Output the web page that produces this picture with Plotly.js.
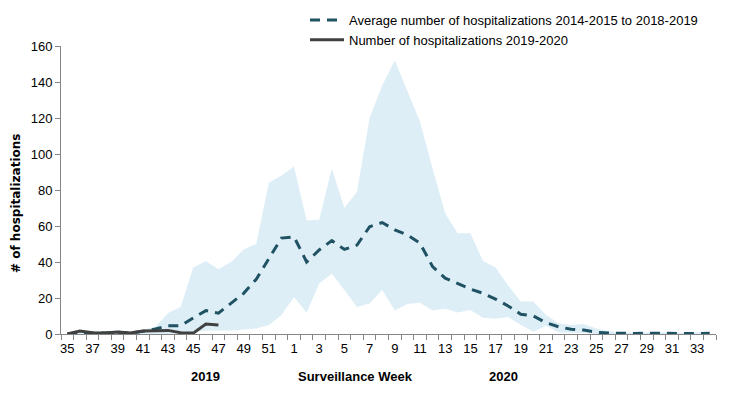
<!DOCTYPE html>
<html>
<head>
<meta charset="utf-8">
<script src="https://cdn.plot.ly/plotly-3.0.1.min.js"></script>
<style>
html,body{margin:0;padding:0;background:#fff;}
#chart{width:740px;height:394px;}
</style>
</head>
<body>
<div id="chart"></div>
<script>
// Surveillance weeks (2019 weeks 35-52, then 2020 weeks 1-34)
const weeks = ['35','36','37','38','39','40','41','42','43','44','45','46','47','48','49','50','51','52',
  '1','2','3','4','5','6','7','8','9','10','11','12','13','14','15','16','17','18','19','20',
  '21','22','23','24','25','26','27','28','29','30','31','32','33','34'];

// Historical range (min / max) 2014-2015 to 2018-2019
const rangeMin = [0,0,0,0,0,0,0,0,0,0.5,1,2,2,2,2.5,3,5,10.5,
  20.5,12,28,33.5,24.5,15,17,24.5,13,16.7,17.4,13,14,12,13.3,9,8.5,9.4,5,1.3,
  4.4,1,0.5,0.5,0,0,0,0,0,0,0,0,0,0];
const rangeMax = [0,1.5,1.5,1.5,2,1.5,2.5,4,11.7,15,37,40.5,36,40,47,50,84,88,
  93,63,63.5,92,70,79,120,138,152,135,118,92,67,56,56,40.5,37,27,18,18,
  10.5,6,5,5.5,3,1.5,1,1,1,1,1,0.5,1,1];

// Average number of hospitalizations 2014-2015 to 2018-2019
const avgHosp = [0,1,0.5,0.5,1,0.5,1.5,2.8,4.6,4.6,8.9,13,11.6,17,22.6,30.4,42,53.3,
  54,40,46.7,51.9,47,49.4,59.6,61.9,57.8,55,50.5,37.4,31,27.8,25,22.6,19.4,15.6,11,10,
  6.3,4,2.6,2.2,1,0.5,0.3,0.3,0.5,0.3,0.2,0.3,0.3,0.4];

// Number of hospitalizations 2019-2020 (weeks 35-47)
const weeks2019 = ['35','36','37','38','39','40','41','42','43','44','45','46','47'];
const hosp2019 = [0,1.7,0.7,0.5,1.1,0.5,1.7,2,2,0.7,0.5,5.5,5];

const yTicks = [0,20,40,60,80,100,120,140,160];

const tickText = weeks.map((w,i)=> i%2===0 ? w : '');

const traces = [
  {x: weeks, y: rangeMin, type:'scatter', mode:'lines', line:{width:0, color:'rgba(0,0,0,0)'},
   showlegend:false, hoverinfo:'skip'},
  {x: weeks, y: rangeMax, type:'scatter', mode:'lines', line:{width:0, color:'rgba(0,0,0,0)'},
   fill:'tonexty', fillcolor:'#DDEEF6', showlegend:false, hoverinfo:'skip'},
  {x: weeks, y: avgHosp, type:'scatter', mode:'lines', name:'Average number of hospitalizations 2014-2015 to 2018-2019',
   legendgroup:'a', line:{color:'#1F5263', width:3, dash:'10px,7px'}},
  {x: weeks2019, y: hosp2019, type:'scatter', mode:'lines', name:'Number of hospitalizations 2019-2020',
   legendgroup:'b', line:{color:'#404040', width:3}}
];

const narrow = 'Liberation Sans Narrow, Liberation Sans, Arial, sans-serif';

const layout = {
  width:740, height:394,
  margin:{l:61, r:24, t:46, b:60, autoexpand:false},
  paper_bgcolor:'#fff', plot_bgcolor:'#fff',
  font:{family:'Liberation Sans, Arial, sans-serif', size:12, color:'#000'},
  showlegend:true,
  legend:{x:(305-61)/655, y:(334-5)/288, xanchor:'left', yanchor:'top', bgcolor:'rgba(0,0,0,0)',
    traceorder:'normal', font:{size:13, family:'Liberation Sans, Arial, sans-serif'}, tracegroupgap:0, itemwidth:34},
  xaxis:{type:'category', categoryorder:'array', categoryarray:weeks,
    tickmode:'array', tickvals:weeks, ticktext:tickText, tickson:'boundaries', tickangle:0,
    ticks:'outside', ticklen:5, tickcolor:'#868686', showline:true, linecolor:'#868686', linewidth:1,
    showgrid:false, zeroline:false, range:[-0.5, 51.5], ticklabelstandoff:2,
    tickfont:{family:narrow, size:13}},
  yaxis:{range:[0,160], tickmode:'array', tickvals:yTicks, ticks:'outside', ticklen:5,
    tickcolor:'#868686', showline:true, linecolor:'#868686', linewidth:1, showgrid:false, zeroline:false,
    tickfont:{size:13}},
  annotations:[
    {text:'<b># of hospitalizations</b>', xref:'paper', yref:'paper', x:(16-61)/655, y:(334-204)/288, xanchor:'center', yanchor:'middle',
     textangle:-90, showarrow:false, font:{size:12, family:'DejaVu Sans, sans-serif'}},
    {text:'<b>Surveillance Week</b>', xref:'paper', yref:'paper', x:(355-61)/655, y:-(376-334)/288, xanchor:'center', yanchor:'middle', showarrow:false,
     font:{size:13, family:narrow}},
    {text:'<b>2019</b>', xref:'paper', yref:'paper', x:(205-61)/655, y:-(376-334)/288, xanchor:'center', yanchor:'middle', showarrow:false,
     font:{size:13, family:narrow}},
    {text:'<b>2020</b>', xref:'paper', yref:'paper', x:(503-61)/655, y:-(376-334)/288, xanchor:'center', yanchor:'middle', showarrow:false,
     font:{size:13, family:narrow}}
  ]
};

Plotly.newPlot('chart', traces, layout, {displayModeBar:false, staticPlot:true});
</script>
</body>
</html>
